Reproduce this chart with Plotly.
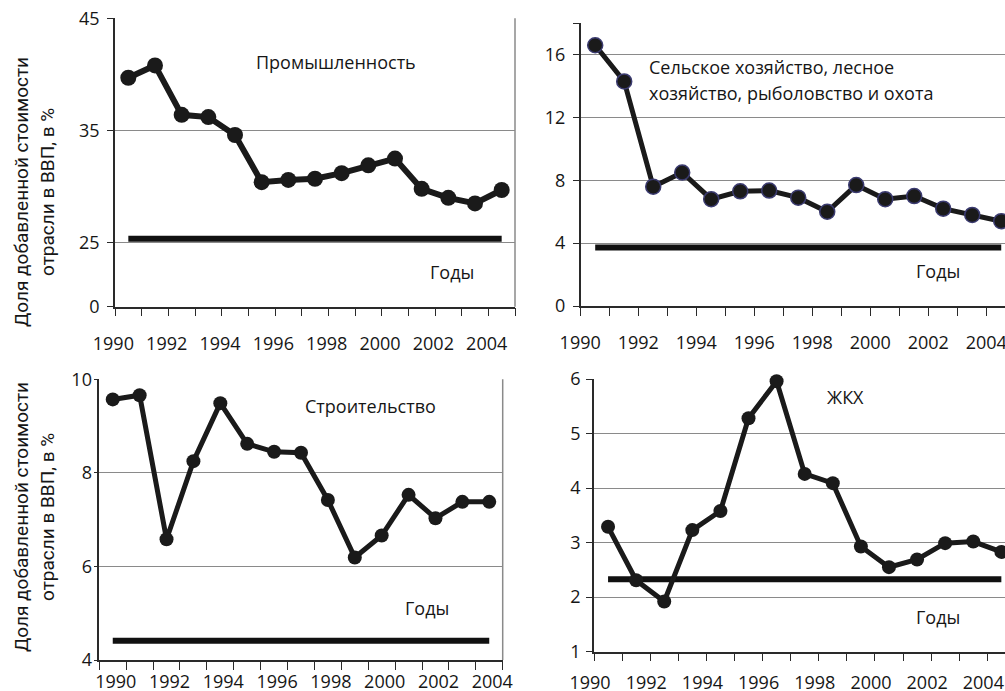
import plotly.graph_objects as go

# ---------------- data ----------------
years = list(range(1990, 2005))
year_ticks = [1990, 1992, 1994, 1996, 1998, 2000, 2002, 2004]

industry = [39.7, 40.8, 36.4, 36.2, 34.6, 30.4, 30.6, 30.7, 31.2, 31.9, 32.5, 29.8, 29.0, 28.5, 29.7]
agriculture = [16.6, 14.3, 7.6, 8.5, 6.8, 7.3, 7.35, 6.9, 6.0, 7.7, 6.8, 7.0, 6.2, 5.8, 5.4]
construction = [9.57, 9.66, 6.58, 8.25, 9.49, 8.62, 8.45, 8.43, 7.42, 6.19, 6.66, 7.53, 7.03, 7.38, 7.38]
housing = [3.29, 2.31, 1.92, 3.23, 3.58, 5.28, 5.96, 4.26, 4.09, 2.93, 2.55, 2.69, 2.99, 3.02, 2.83]

industry_base = 25.35
agriculture_base = 3.72
construction_base = 4.41
housing_base = 2.33

industry_ticks = [19.3, 25, 35, 45]
industry_ticktext = ["0", "25", "35", "45"]
agriculture_ticks = [0, 4, 8, 12, 16, 18]
agriculture_ticktext = ["0", "4", "8", "12", "16", ""]
construction_ticks = [4, 6, 8, 10]
housing_ticks = [1, 2, 3, 4, 5, 6]

titles = ["Промышленность", "Сельское хозяйство, лесное", "хозяйство, рыболовство и охота",
          "Строительство", "ЖКХ"]
years_label = "Годы"
ytitle1 = "Доля добавленной стоимости"
ytitle2 = "отрасли в ВВП, в %"

# ---------------- layout helpers ----------------
W, H = 1005, 691
def px(x):
    return x / W
def py(y):
    return 1 - y / H

FONT = "Open Sans"
TXT = "#161616"
GRID = "#8a8a8a"
AX = "#2a2a2a"

fig = go.Figure()

panels = [
    dict(vals=industry, base=industry_base, xd=(115, 515), yd=(18.3, 306.7),
         xr=[1989.5, 2004.5], yr=[19.3, 45], tv=industry_ticks, tt=industry_ticktext,
         msize=16, lw=6, mline=None, shift=-15, xstand=20, ylen=6, ystand=4, right=True),
    dict(vals=agriculture, base=agriculture_base, xd=(580.7, 1005), yd=(23.3, 306),
         xr=[1989.5, 2004.13], yr=[0, 18], tv=agriculture_ticks, tt=agriculture_ticktext,
         msize=15, lw=5, mline="#3b3b70", shift=-15, xstand=20, ylen=6, ystand=4, right=False),
    dict(vals=construction, base=construction_base, xd=(99.3, 502.7), yd=(379.3, 660),
         xr=[1989.5, 2004.5], yr=[4, 10], tv=construction_ticks, tt=[str(v) for v in construction_ticks],
         msize=14, lw=5, mline=None, shift=3, xstand=5, ylen=4, ystand=-2, right=True),
    dict(vals=housing, base=housing_base, xd=(594, 1005), yd=(379, 651.7),
         xr=[1989.5, 2004.13], yr=[1, 6], tv=housing_ticks, tt=[str(v) for v in housing_ticks],
         msize=14, lw=5, mline=None, shift=-18, xstand=14, ylen=6, ystand=2, right=False),
]

for i, p in enumerate(panels):
    n = "" if i == 0 else str(i + 1)
    xa, ya = "x" + n, "y" + n
    # thick baseline bar
    fig.add_trace(go.Scatter(x=[years[0], years[-1]], y=[p["base"], p["base"]],
                             mode="lines", line=dict(color="#111111", width=6),
                             xaxis=xa, yaxis=ya, showlegend=False, hoverinfo="skip"))
    marker = dict(size=p["msize"], color="#1a1a1a")
    if p["mline"]:
        marker["line"] = dict(color=p["mline"], width=1.5)
    fig.add_trace(go.Scatter(x=years, y=p["vals"], mode="lines+markers",
                             line=dict(color="#1a1a1a", width=p["lw"]),
                             marker=marker, cliponaxis=False,
                             xaxis=xa, yaxis=ya, showlegend=False))
    fig.layout["xaxis" + n] = dict(
        domain=[px(p["xd"][0]), min(1.0, px(p["xd"][1]))],
        anchor=ya, range=p["xr"], tickvals=year_ticks, ticks="",
        showgrid=False, showline=True, linecolor=AX, linewidth=1.5,
        zeroline=False, tickfont=dict(family=FONT, size=18, color=TXT),
        ticklabelshift=p["shift"], ticklabelstandoff=p["xstand"], automargin=False,
        ticklabeloverflow="allow",
        minor=dict(ticks="outside", tick0=1989.5, dtick=1, ticklen=8,
                   tickcolor=AX, tickwidth=1.2, showgrid=False),
    )
    fig.layout["yaxis" + n] = dict(
        domain=[py(p["yd"][1]), py(p["yd"][0])],
        anchor=xa, range=p["yr"], tickvals=p["tv"], ticktext=p["tt"],
        ticks="outside", ticklen=p["ylen"], tickcolor=AX, tickwidth=1.2,
        showgrid=True, gridcolor=GRID, gridwidth=1.2,
        showline=True, linecolor=AX, linewidth=1.5, zeroline=False,
        tickfont=dict(family=FONT, size=18, color=TXT), ticklabelstandoff=p["ystand"],
        automargin=False,
    )
    if p["right"]:
        fig.add_shape(type="line", xref=xa + " domain", yref=ya + " domain",
                      x0=1, x1=1, y0=0, y1=1, line=dict(color=GRID, width=1.5))

ann = []
def add_text(text, x, y, xanchor="center", size=18, family=FONT, angle=0):
    ann.append(dict(text=text, x=px(x), y=py(y), xref="paper", yref="paper",
                    xanchor=xanchor, yanchor="middle", showarrow=False, textangle=angle,
                    font=dict(family=family, size=size, color=TXT)))

add_text(titles[0], 336, 62)
add_text(titles[1], 646.7, 66.7, xanchor="left")
add_text(titles[2], 646.7, 93.3, xanchor="left")
add_text(titles[3], 370, 406)
add_text(titles[4], 845, 397)
add_text(years_label, 452, 272)
add_text(years_label, 938, 271)
add_text(years_label, 427, 608)
add_text(years_label, 938, 617)
for cy in (192, 517):
    add_text(ytitle1, 21, cy, size=19, family="Roboto", angle=-90)
    add_text(ytitle2, 47, cy, size=19, family="Roboto", angle=-90)

fig.update_layout(width=W, height=H, margin=dict(l=0, r=0, t=0, b=0, autoexpand=False),
                  paper_bgcolor="white", plot_bgcolor="white",
                  annotations=ann, showlegend=False)

fig.write_html("out.html", config={"displayModeBar": False},
               post_script="document.body.style.margin='0';document.body.style.overflow='hidden';")
